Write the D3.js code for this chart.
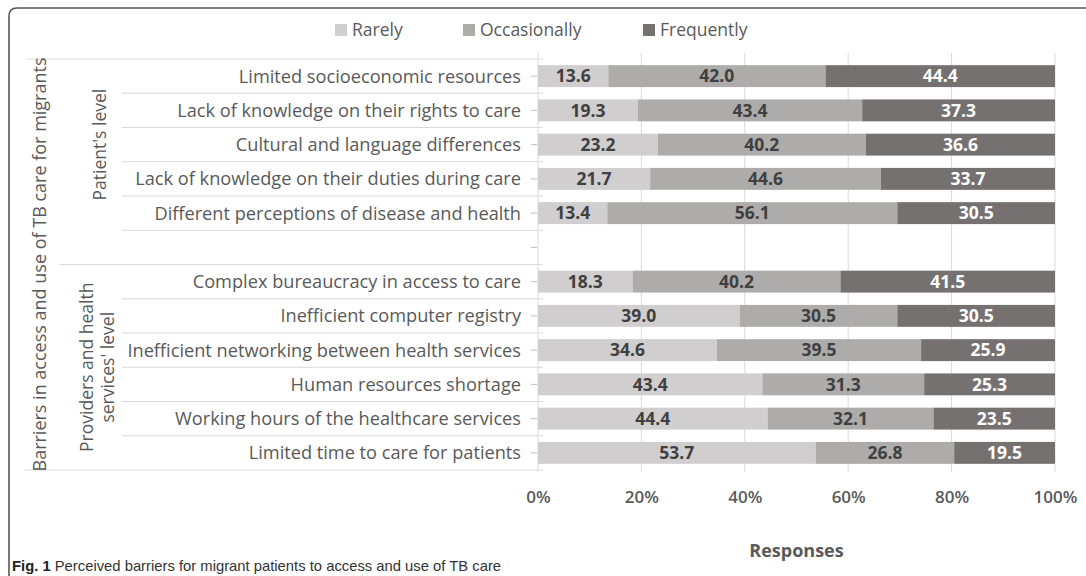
<!DOCTYPE html>
<html><head><meta charset="utf-8">
<script src="https://cdn.jsdelivr.net/npm/d3@7"></script>
<style>body{margin:0;background:#fff;} svg{display:block;}</style>
</head><body>
<svg id="chart" width="1086" height="576"></svg>
<script>
const categories = [
  "Limited socioeconomic resources",
  "Lack of knowledge on their rights to care",
  "Cultural and language differences",
  "Lack of knowledge on their duties during care",
  "Different perceptions of disease and health",
  "",
  "Complex bureaucracy in access to care",
  "Inefficient computer registry",
  "Inefficient networking between health services",
  "Human resources shortage",
  "Working hours of the healthcare services",
  "Limited time to care for patients"
];
const seriesNames = ["Rarely", "Occasionally", "Frequently"];
const rarely       = [13.6, 19.3, 23.2, 21.7, 13.4, null, 18.3, 39.0, 34.6, 43.4, 44.4, 53.7];
const occasionally = [42.0, 43.4, 40.2, 44.6, 56.1, null, 40.2, 30.5, 39.5, 31.3, 32.1, 26.8];
const frequently   = [44.4, 37.3, 36.6, 33.7, 30.5, null, 41.5, 30.5, 25.9, 25.3, 23.5, 19.5];
const xTicks = [0, 20, 40, 60, 80, 100];
const groups = [
  {lines: ["Patient's level"], from: 0, to: 4},
  {lines: ["Providers and health", "services' level"], from: 6, to: 11}
];
const outerLabel = "Barriers in access and use of TB care for migrants";
const xTitle = "Responses";
const captionBold = "Fig. 1";
const captionText = " Perceived barriers for migrant patients to access and use of TB care";

const colors = ["#d0cece", "#aeabab", "#767171"];
const labelColors = ["#404040", "#404040", "#ffffff"];
const FONT = "'Open Sans', sans-serif";

const svg = d3.select("#chart");

// frame
svg.append("path")
  .attr("d", "M9,576 L9,16 Q9,8 17,8 L1086,8")
  .attr("fill", "none").attr("stroke", "#555").attr("stroke-width", 1.6);

const x = d3.scaleLinear().domain([0, 100]).range([538, 1055]);
const y = d3.scaleBand().domain(d3.range(categories.length)).range([59, 470]).paddingInner(0.36).paddingOuter(0.18);
const step = y.step();
const y0 = 59;
const boundary = k => y0 + k * step;

// vertical gridlines
svg.append("g").selectAll("line").data(xTicks).join("line")
  .attr("x1", d => x(d)).attr("x2", d => x(d))
  .attr("y1", 53).attr("y2", 472)
  .attr("stroke", "#d9d9d9").attr("stroke-width", 1);

// category separators
const sepStart = k => (k === 0 ? 27 : k === categories.length ? 25 : k === 6 ? 60 : 122);
svg.append("g").selectAll("line").data(d3.range(categories.length + 1)).join("line")
  .attr("x1", k => sepStart(k)).attr("x2", 543)
  .attr("y1", k => boundary(k)).attr("y2", k => boundary(k))
  .attr("stroke", "#d9d9d9").attr("stroke-width", 1.2);

// small ticks at category centers
svg.append("g").selectAll("line").data(d3.range(categories.length)).join("line")
  .attr("x1", 531).attr("x2", 537)
  .attr("y1", i => y(i) + y.bandwidth() / 2).attr("y2", i => y(i) + y.bandwidth() / 2)
  .attr("stroke", "#bfbfbf").attr("stroke-width", 1);

// stacked data
const rows = categories.map((c, i) => ({i, Rarely: rarely[i], Occasionally: occasionally[i], Frequently: frequently[i]}))
  .filter(r => r.Rarely != null);
const stack = d3.stack().keys(seriesNames)(rows);

const gBars = svg.append("g");
stack.forEach((layer, si) => {
  gBars.append("g").selectAll("rect").data(layer).join("rect")
    .attr("x", d => x(d[0])).attr("width", d => x(d[1]) - x(d[0]))
    .attr("y", d => y(d.data.i)).attr("height", y.bandwidth())
    .attr("fill", colors[si]);
  gBars.append("g").selectAll("text").data(layer).join("text")
    .attr("x", d => (x(d[0]) + x(d[1])) / 2)
    .attr("y", d => y(d.data.i) + y.bandwidth() / 2)
    .attr("dy", "0.36em").attr("text-anchor", "middle")
    .attr("font-family", FONT).attr("font-weight", "bold").attr("font-size", 17.5)
    .attr("fill", labelColors[si])
    .text(d => d.data[seriesNames[si]].toFixed(1));
});

// category labels
svg.append("g").selectAll("text").data(categories).join("text")
  .attr("x", 521).attr("y", (d, i) => y(i) + y.bandwidth() / 2)
  .attr("dy", "0.36em").attr("text-anchor", "end")
  .attr("font-family", FONT).attr("font-size", 18.2).attr("fill", "#595959")
  .text(d => d);

// group labels
groups.forEach(g => {
  const cy = (boundary(g.from) + boundary(g.to + 1)) / 2;
  const n = g.lines.length;
  const cx = n === 1 ? 100 : 97;
  const t = svg.append("text")
    .attr("transform", `translate(${cx},${cy}) rotate(-90)`)
    .attr("text-anchor", "middle")
    .attr("font-family", FONT).attr("font-size", 17.5).attr("fill", "#595959");
  g.lines.forEach((ln, li) => {
    t.append("tspan").attr("x", 0)
      .attr("y", (li - (n - 1) / 2) * 21)
      .attr("dy", "0.36em").text(ln);
  });
});

// outer label
svg.append("text")
  .attr("transform", `translate(40,${(boundary(0) + boundary(categories.length)) / 2}) rotate(-90)`)
  .attr("text-anchor", "middle").attr("dy", "0.36em")
  .attr("font-family", FONT).attr("font-size", 18).attr("fill", "#595959")
  .text(outerLabel);

// x axis
const xAxis = d3.axisBottom(x).tickValues(xTicks).tickFormat(d => d + "%").tickSize(0).tickPadding(0);
const gx = svg.append("g").attr("transform", "translate(0,491)").call(xAxis);
gx.select(".domain").remove();
gx.selectAll("text").attr("font-family", FONT).attr("font-size", 17).attr("font-weight", 600)
  .attr("fill", "#595959").attr("dy", "0.71em");

svg.append("text").attr("x", (x(0) + x(100)) / 2).attr("y", 551).attr("dy", "0.36em")
  .attr("text-anchor", "middle").attr("font-family", FONT).attr("font-weight", "bold")
  .attr("font-size", 18).attr("fill", "#595959").text(xTitle);

// legend
const legendX = [335, 463, 643];
const lg = svg.append("g").selectAll("g").data(seriesNames).join("g")
  .attr("transform", (d, i) => `translate(${legendX[i]},30)`);
lg.append("rect").attr("x", 0).attr("y", -6).attr("width", 12).attr("height", 12)
  .attr("fill", (d, i) => colors[i]);
lg.append("text").attr("x", 17).attr("dy", "0.36em")
  .attr("font-family", FONT).attr("font-size", 17.5).attr("fill", "#595959").text(d => d);

// caption
const cap = svg.append("text").attr("x", 12).attr("y", 566).attr("dy", "0.36em")
  .attr("font-family", "'Liberation Sans Narrow', 'Arial Narrow', sans-serif").attr("font-size", 14.8).attr("fill", "#333");
cap.append("tspan").attr("font-weight", "bold").attr("fill", "#222").text(captionBold);
cap.append("tspan").text(captionText);
</script>
</body></html>
